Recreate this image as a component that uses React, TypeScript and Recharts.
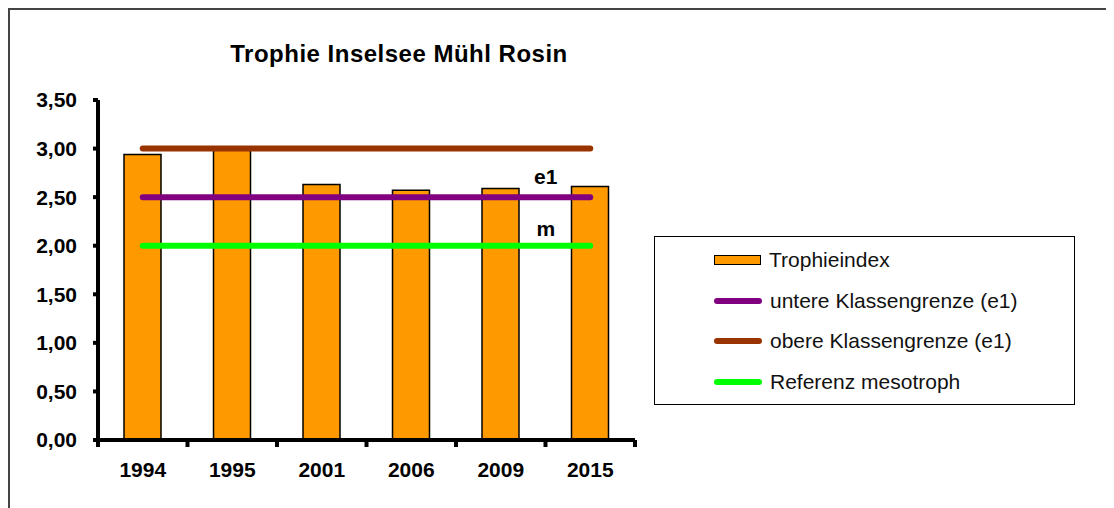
import React from "react"
import { ComposedChart, Bar, Line, XAxis, YAxis, Legend, LabelList } from "recharts"

const years = ["1994", "1995", "2001", "2006", "2009", "2015"]
const trophieindex = [2.94, 2.99, 2.63, 2.57, 2.59, 2.61]
const untereGrenze = [2.5, 2.5, 2.5, 2.5, 2.5, 2.5]
const obereGrenze = [3.0, 3.0, 3.0, 3.0, 3.0, 3.0]
const referenzMeso = [2.0, 2.0, 2.0, 2.0, 2.0, 2.0]
const yTicks = [0, 0.5, 1, 1.5, 2, 2.5, 3, 3.5]

const legendOrder = [
  "Trophieindex",
  "untere Klassengrenze (e1)",
  "obere Klassengrenze (e1)",
  "Referenz mesotroph",
]

const data = years.map((y, i) => ({
  year: y,
  Trophieindex: trophieindex[i],
  "untere Klassengrenze (e1)": untereGrenze[i],
  "obere Klassengrenze (e1)": obereGrenze[i],
  "Referenz mesotroph": referenzMeso[i],
}))

const font = "'Liberation Sans', Arial, sans-serif"
const fmt = (v: number) => v.toFixed(2).replace(".", ",")
const tickStyle = { fill: "#000", fontSize: 21, fontWeight: "bold", fontFamily: font }

// year label plus tick marks on the category boundaries (Excel style)
function YearTick(props: any) {
  const { x, y, payload, index } = props
  const half = payload && payload.offset ? payload.offset : 44.75
  return (
    <g>
      <line x1={x - half} x2={x - half} y1={y} y2={y + 7} stroke="#000" strokeWidth={4} />
      {index === years.length - 1 && (
        <line x1={x + half} x2={x + half} y1={y} y2={y + 7} stroke="#000" strokeWidth={4} />
      )}
      <text
        x={x}
        y={y + 37}
        textAnchor="middle"
        fill="#000"
        fontSize={21}
        fontWeight="bold"
        fontFamily={font}
      >
        {payload.value}
      </text>
    </g>
  )
}

function lineLabel(text: string, index: number, dy: number) {
  return (props: any) => {
    if (props.index !== index) return null
    return (
      <text
        x={props.x + 45}
        y={props.y + dy}
        textAnchor="middle"
        fontFamily={font}
        fontWeight="bold"
        fontSize={21}
        fill="#000"
      >
        {text}
      </text>
    )
  }
}

function LegendBox(props: any) {
  const payload = [...(props.payload || [])].sort(
    (a: any, b: any) => legendOrder.indexOf(a.value) - legendOrder.indexOf(b.value)
  )
  return (
    <div
      style={{
        border: "1px solid #000",
        width: 419,
        height: 164,
        boxSizing: "content-box",
        paddingTop: 3,
        fontFamily: font,
        fontSize: 21,
        color: "#111",
      }}
    >
      {payload.map((p: any) => (
        <div key={p.value} style={{ display: "flex", alignItems: "center", height: 40.5 }}>
          <div style={{ width: 59 }} />
          {p.value === "Trophieindex" ? (
            <div
              style={{
                width: 45,
                height: 8,
                background: "#FF9900",
                border: "1.5px solid #000",
              }}
            />
          ) : (
            <div style={{ width: 48, height: 6, borderRadius: 3, background: p.color }} />
          )}
          <span style={{ marginLeft: 8, whiteSpace: "nowrap" }}>{p.value}</span>
        </div>
      ))}
    </div>
  )
}

export default function App() {
  return (
    <div
      style={{
        position: "relative",
        width: 1106,
        height: 500,
        borderTop: "2px solid #444",
        borderLeft: "2px solid #444",
        boxSizing: "border-box",
        background: "#fff",
      }}
    >
      <div
        style={{
          position: "absolute",
          left: 0,
          width: 778,
          top: 30,
          textAlign: "center",
          fontFamily: font,
          fontWeight: "bold",
          fontSize: 24,
          letterSpacing: 0.5,
          color: "#000",
        }}
      >
        Trophie Inselsee Mühl Rosin
      </div>
      <ComposedChart
        width={1104}
        height={498}
        data={data}
        margin={{ top: 90, right: 479, bottom: 0, left: 0 }}
      >
        <XAxis
          dataKey="year"
          height={68}
          axisLine={{ stroke: "#000", strokeWidth: 4 }}
          tickLine={false}
          tickSize={0}
          tickMargin={0}
          interval={0}
          tick={<YearTick />}
        />
        <YAxis
          width={88}
          domain={[0, 3.5]}
          ticks={yTicks}
          interval={0}
          tickFormatter={fmt}
          tickSize={5}
          tickMargin={16}
          axisLine={{ stroke: "#000", strokeWidth: 4 }}
          tickLine={{ stroke: "#000", strokeWidth: 4 }}
          tick={tickStyle}
        />
        <Legend
          content={<LegendBox />}
          layout="horizontal"
          verticalAlign="middle"
          align="center"
          wrapperStyle={{ position: "absolute", left: 644, top: 226, width: 421, height: 166 }}
        />
        <Bar
          dataKey="Trophieindex"
          fill="#FF9900"
          stroke="#000"
          strokeWidth={1.5}
          barSize={37}
          isAnimationActive={false}
        />
        <Line
          dataKey="untere Klassengrenze (e1)"
          stroke="#800080"
          strokeWidth={6}
          strokeLinecap="round"
          dot={false}
          activeDot={false}
          isAnimationActive={false}
        >
          <LabelList content={lineLabel("e1", 4, -13)} />
        </Line>
        <Line
          dataKey="obere Klassengrenze (e1)"
          stroke="#993300"
          strokeWidth={6}
          strokeLinecap="round"
          dot={false}
          activeDot={false}
          isAnimationActive={false}
        />
        <Line
          dataKey="Referenz mesotroph"
          stroke="#00FF00"
          strokeWidth={6}
          strokeLinecap="round"
          dot={false}
          activeDot={false}
          isAnimationActive={false}
        >
          <LabelList content={lineLabel("m", 4, -10)} />
        </Line>
      </ComposedChart>
    </div>
  )
}
